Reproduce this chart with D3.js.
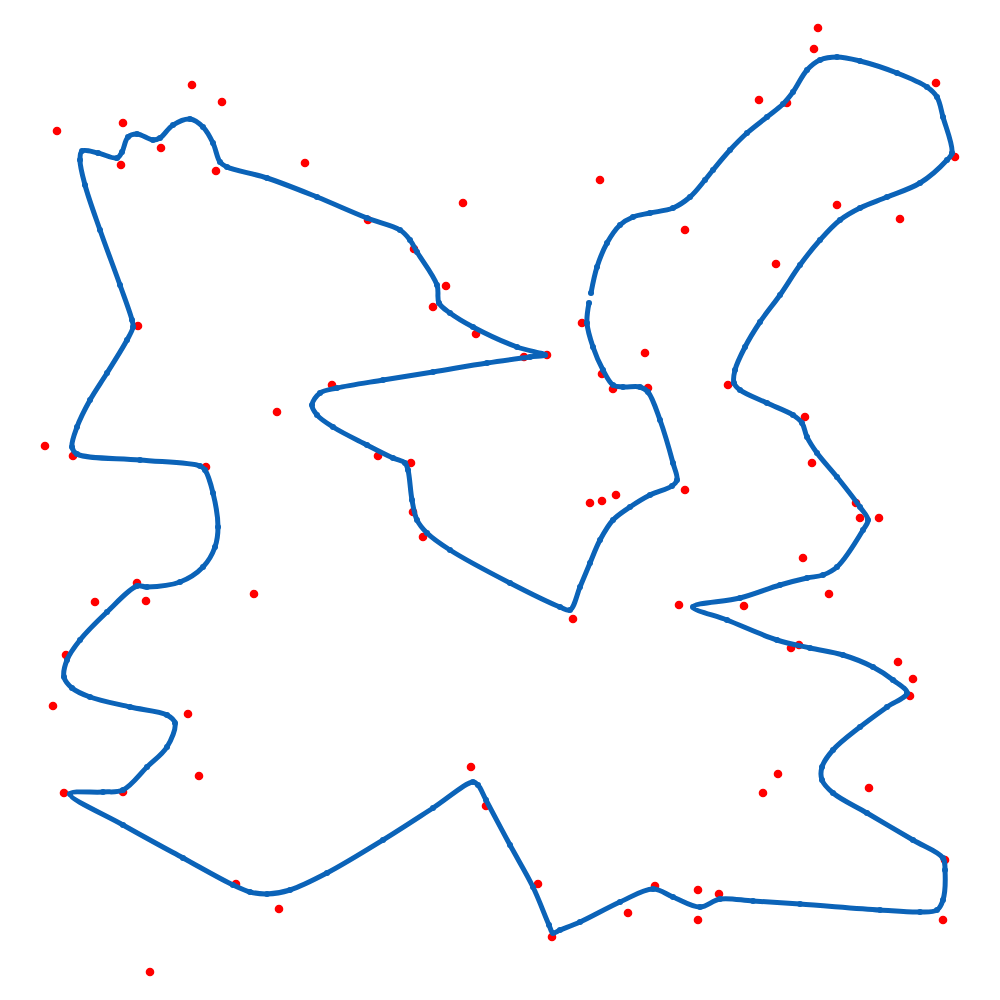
<!DOCTYPE html>
<html><head><meta charset="utf-8">
<script src="https://cdn.jsdelivr.net/npm/d3@7"></script>
<style>html,body{margin:0;padding:0;background:#fff;}svg{display:block;}</style>
</head><body>
<svg id="chart" width="1000" height="1000"></svg>
<script>
// Cities (red points), x/y in data units (0..1000, y downward)
const cityX = [818,814,192,222,936,759,787,123,57,161,955,121,305,216,600,463,837,900,368,685,414,776,446,433,582,138,476,645,524,547,602,332,613,648,728,277,805,45,73,378,411,206,812,685,616,602,590,856,860,879,413,423,803,137,829,95,146,254,679,744,573,791,799,66,898,913,910,53,188,471,199,778,869,763,64,123,486,945,236,538,655,698,719,279,628,698,943,552,150];
const cityY = [28,49,85,102,83,100,103,123,131,148,157,165,163,171,180,203,205,219,220,230,249,264,286,307,323,326,334,353,357,355,374,385,389,388,385,412,417,446,456,456,463,467,463,490,495,501,503,503,518,518,512,537,558,583,594,602,601,594,605,606,619,648,645,655,662,679,696,706,714,767,776,774,788,793,793,792,806,860,884,884,886,890,894,909,913,920,920,937,972];

// Tour (blue path) nodes, in order
const tourX = [591,597,607,620,633,650,673,690,705,713,730,747,767,783,793,807,820,837,860,897,927,937,943,952,947,920,887,860,840,820,800,780,760,745,735,734,740,767,793,802,807,817,837,860,868,863,837,823,807,780,740,693,727,777,810,843,873,893,907,887,860,833,822,822,833,867,913,943,945,943,937,920,880,800,753,720,700,673,653,620,580,560,553,549,533,510,486,478,473,433,383,327,290,267,250,233,183,123,70,103,123,147,167,175,167,130,90,72,64,67,80,107,137,147,180,203,215,218,213,205,200,140,77,72,77,90,107,127,133,132,120,100,85,80,82,98,117,122,128,137,153,160,173,190,203,213,220,227,267,317,367,400,410,417,437,439,450,473,517,545,530,487,433,383,337,320,312,317,333,367,393,405,408,412,417,427,450,510,560,570,580,590,600,613,630,650,672,677,673,660,648,640,623,613,603,593,587,589];
const tourY = [293,267,243,225,217,213,208,197,180,170,150,133,117,104,92,70,60,57,61,73,87,97,117,153,160,183,197,208,220,240,265,295,322,347,370,383,390,403,415,423,437,453,477,507,520,530,567,575,578,585,598,607,620,640,648,655,667,680,693,707,727,750,767,780,793,813,840,858,870,900,910,912,910,904,901,899,907,897,889,902,922,930,933,925,887,845,800,785,782,808,840,873,890,894,892,885,858,825,794,792,790,767,747,723,715,707,697,688,677,660,640,612,586,587,582,567,547,527,493,470,466,460,454,447,427,400,373,340,327,320,285,230,185,160,151,153,158,152,137,134,140,138,125,119,127,143,162,167,178,197,218,230,240,252,285,303,313,327,347,355,357,363,372,380,388,393,405,415,427,445,458,463,470,500,520,533,550,583,607,610,587,563,540,520,507,495,486,480,463,420,392,387,387,385,370,347,323,303];

const W = 1000, H = 1000;
const x = d3.scaleLinear().domain([0, 1000]).range([0, W]);
const y = d3.scaleLinear().domain([0, 1000]).range([0, H]);
const svg = d3.select("#chart");

const cities = cityX.map((v, i) => ({x: v, y: cityY[i]}));
const tour = tourX.map((v, i) => ({x: v, y: tourY[i]}));

const blue = "#0b63b8";

svg.append("g").selectAll("circle").data(cities).join("circle")
  .attr("cx", d => x(d.x)).attr("cy", d => y(d.y)).attr("r", 4.3)
  .attr("fill", "#ff0000");

const line = d3.line().x(d => x(d.x)).y(d => y(d.y)).curve(d3.curveCatmullRom.alpha(0.5));
svg.append("path").datum(tour).attr("d", line)
  .attr("fill", "none").attr("stroke", blue).attr("stroke-width", 5)
  .attr("stroke-linejoin", "round").attr("stroke-linecap", "round");

svg.append("g").selectAll("circle").data(tour).join("circle")
  .attr("cx", d => x(d.x)).attr("cy", d => y(d.y)).attr("r", 3)
  .attr("fill", blue);
</script>
</body></html>
